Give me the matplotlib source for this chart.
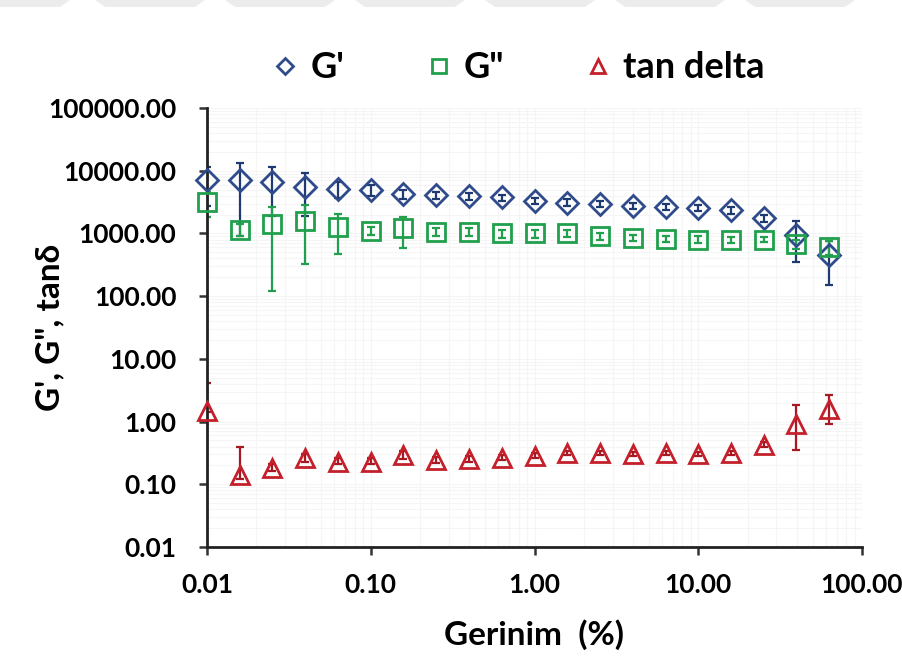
import matplotlib
matplotlib.use("Agg")
import matplotlib.pyplot as plt
from matplotlib.patches import Polygon
from matplotlib.ticker import FuncFormatter, LogLocator, NullFormatter

plt.rcParams['font.family'] = ['Lato', 'DejaVu Sans']
plt.rcParams['font.weight'] = 'bold'

# deformasyon (%) ve olculen degerler
strain = [0.01, 0.0158, 0.0251, 0.0398, 0.0631, 0.1, 0.158, 0.251, 0.398, 0.631,
          1.0, 1.58, 2.51, 3.98, 6.31, 10.0, 15.8, 25.1, 39.8, 63.1]
g_storage = [7100, 7100, 6600, 5500, 5200, 5000, 4300, 4100, 3950, 3750,
             3300, 3100, 2950, 2750, 2650, 2550, 2350, 1750, 950, 450]
g_storage_err = [4400, 6200, 4700, 3600, 1500, 1000, 700, 500, 500, 400,
                 400, 400, 350, 300, 300, 300, 300, 250, 600, 300]
g_loss = [3200, 1150, 1400, 1600, 1250, 1100, 1200, 1050, 1050, 1000,
          1000, 1000, 900, 850, 820, 800, 790, 800, 680, 600]
g_loss_err = [1350, 250, 1280, 1270, 780, 150, 620, 150, 150, 150,
              150, 120, 100, 100, 100, 100, 80, 80, 120, 150]
tan_delta = [1.45, 0.14, 0.18, 0.26, 0.23, 0.23, 0.29, 0.24, 0.25, 0.26,
             0.28, 0.31, 0.31, 0.30, 0.31, 0.30, 0.31, 0.43, 0.90, 1.60]
tan_err_low = [0.05, 0.02, 0.02, 0.03, 0.02, 0.02, 0.04, 0.02, 0.02, 0.02,
               0.02, 0.02, 0.02, 0.02, 0.02, 0.02, 0.02, 0.03, 0.55, 0.70]
tan_err_high = [2.6, 0.25, 0.03, 0.04, 0.03, 0.03, 0.05, 0.03, 0.03, 0.03,
                0.03, 0.03, 0.03, 0.03, 0.03, 0.03, 0.03, 0.04, 0.95, 1.05]

blue = '#2f4b8c'
green = '#20a04c'
red = '#c4202c'

fig = plt.figure(figsize=(9.02, 6.71), dpi=100)

# soluk filigran seritleri (ust kenar)
for x0 in [-40, 95, 225, 355, 485, 615, 745]:
    pts = [(x0, 671), (x0 + 110, 671), (x0 + 100, 664), (x0 + 10, 664)]
    fig.patches.append(Polygon(pts, closed=True, transform=None,
                               facecolor='#ececec', edgecolor='none'))

ax = fig.add_axes([207 / 902, 1 - 547 / 671, (862 - 207) / 902, (547 - 108) / 671])

ax.errorbar(strain, g_storage, yerr=g_storage_err, fmt='none', ecolor='#1f3a70',
            elinewidth=1.6, capsize=3, capthick=1.6, zorder=2)
ax.errorbar(strain, g_loss, yerr=g_loss_err, fmt='none', ecolor=green,
            elinewidth=1.6, capsize=3, capthick=1.6, zorder=2)
ax.errorbar(strain, tan_delta, yerr=[tan_err_low, tan_err_high], fmt='none',
            ecolor='#a81822', elinewidth=1.6, capsize=3, capthick=1.6, zorder=2)

ax.plot(strain, g_storage, 'D', ms=11, mfc='none', mec=blue, mew=2, label="G'",
        zorder=3, clip_on=False)
ax.plot(strain, g_loss, 's', ms=13, mfc='none', mec=green, mew=2, label='G"',
        zorder=3, clip_on=False)
ax.plot(strain, tan_delta, '^', ms=13, mfc='none', mec=red, mew=2, label='tan delta',
        zorder=3, clip_on=False)

ax.set_xscale('log')
ax.set_yscale('log')
ax.set_xlim(0.01, 100)
ax.set_ylim(0.01, 100000)

fmt = FuncFormatter(lambda v, p: '%.2f' % v)
ax.xaxis.set_major_formatter(fmt)
ax.yaxis.set_major_formatter(fmt)
ax.xaxis.set_major_locator(LogLocator(base=10, numticks=10))
ax.yaxis.set_major_locator(LogLocator(base=10, numticks=10))
ax.xaxis.set_minor_formatter(NullFormatter())
ax.yaxis.set_minor_formatter(NullFormatter())

ax.tick_params(axis='both', which='major', labelsize=19, length=6, width=1.8,
               color='#333333')
ax.tick_params(axis='y', which='major', pad=16)
ax.tick_params(axis='x', which='major', pad=13)
ax.tick_params(axis='both', which='minor', length=0)

ax.grid(True, which='both', color='#f5f5f5', linewidth=0.8, zorder=0)
ax.set_axisbelow(True)

for s in ['top', 'right']:
    ax.spines[s].set_visible(False)
for s in ['left', 'bottom']:
    ax.spines[s].set_linewidth(2)
    ax.spines[s].set_color('#222222')

ax.set_xlabel('Gerinim  (%)', fontsize=24, fontweight='bold', labelpad=16)
ax.set_ylabel('G\', G", tanδ', fontsize=24, fontweight='bold')
ax.yaxis.set_label_coords((64 - 207) / 655, 0.5)

leg = fig.legend(loc='center', bbox_to_anchor=(518 / 902, 1 - 68 / 671), ncol=3,
                 frameon=False, fontsize=26, handlelength=0.8, handletextpad=0.3,
                 columnspacing=2.2, markerscale=0.75)

fig.savefig('out.png', dpi=100)
